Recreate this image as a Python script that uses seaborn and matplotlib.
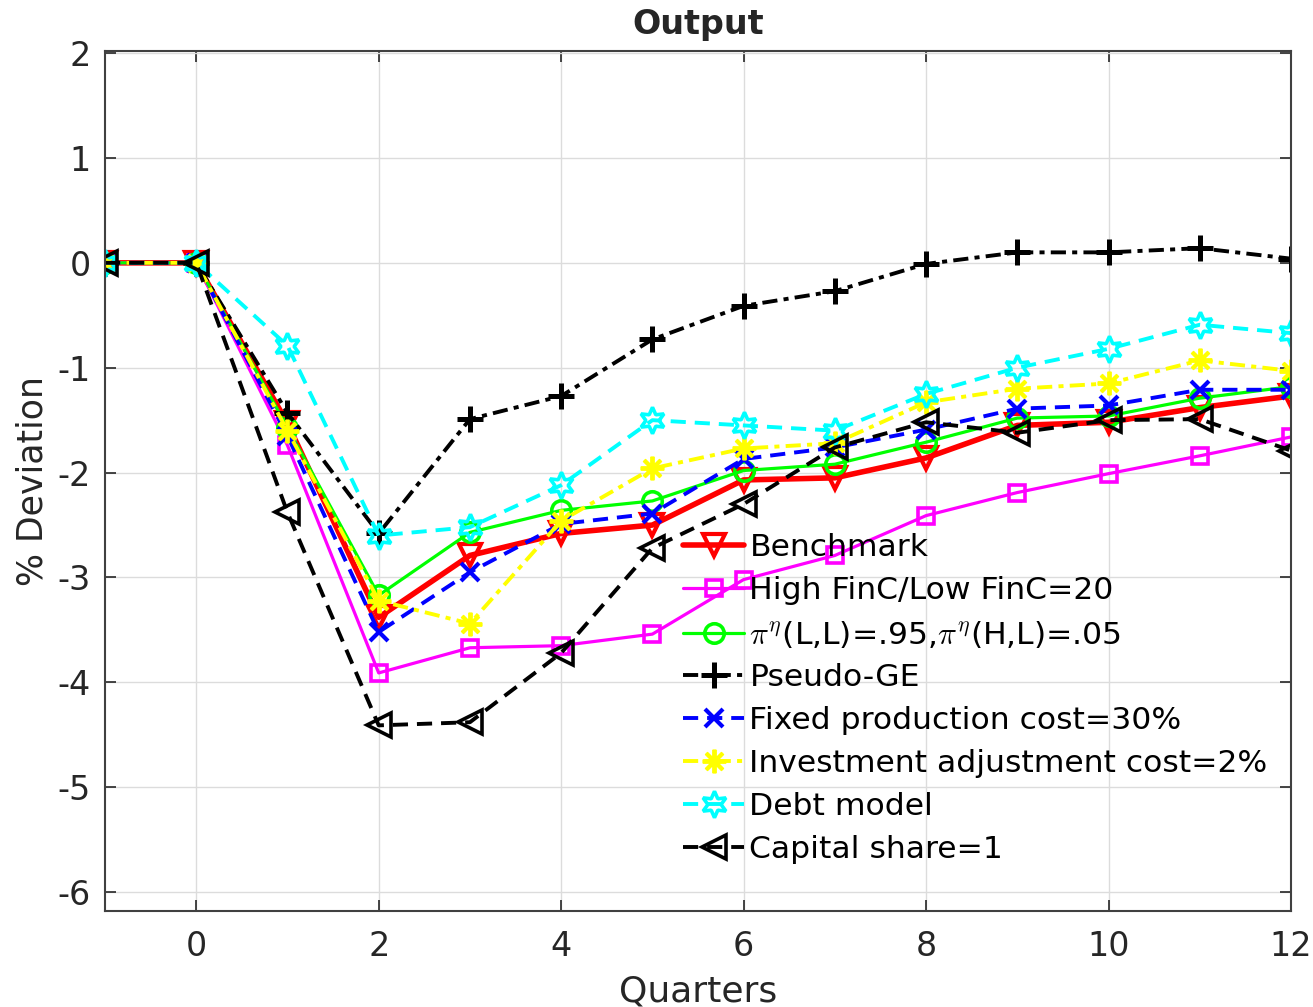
import numpy as np
import pandas as pd
import seaborn as sns
import matplotlib.pyplot as plt

sns.set_style("ticks")
plt.rcParams['font.family'] = ['DejaVu Sans']
plt.rcParams['mathtext.fontset'] = 'cm'
plt.rcParams['axes.unicode_minus'] = False

# quarters after the shock
quarters = [-1, 0, 1, 2, 3, 4, 5, 6, 7, 8, 9, 10, 11, 12]

benchmark = [0, 0, -1.53, -3.38, -2.79, -2.58, -2.50, -2.07, -2.05, -1.86, -1.55, -1.52, -1.38, -1.27]
high_finc = [0, 0, -1.74, -3.91, -3.67, -3.65, -3.54, -3.02, -2.79, -2.41, -2.19, -2.01, -1.84, -1.66]
pi_eta = [0, 0, -1.57, -3.17, -2.57, -2.36, -2.27, -1.98, -1.92, -1.71, -1.48, -1.46, -1.29, -1.18]
pseudo_ge = [0, 0, -1.43, -2.58, -1.49, -1.27, -0.73, -0.41, -0.27, -0.01, 0.10, 0.10, 0.14, 0.04]
fixed_cost = [0, 0, -1.65, -3.52, -2.95, -2.49, -2.39, -1.87, -1.76, -1.59, -1.39, -1.36, -1.21, -1.21]
inv_adj = [0, 0, -1.60, -3.22, -3.44, -2.46, -1.96, -1.77, -1.72, -1.33, -1.20, -1.15, -0.93, -1.03]
debt_model = [0, 0, -0.79, -2.60, -2.52, -2.12, -1.50, -1.55, -1.60, -1.25, -1.00, -0.82, -0.59, -0.67]
cap_share = [0, 0, -2.38, -4.41, -4.38, -3.72, -2.72, -2.30, -1.76, -1.52, -1.62, -1.50, -1.49, -1.79]

labels = ['Benchmark', 'High FinC/Low FinC=20',
          r'$\pi^\eta$(L,L)=.95,$\pi^\eta$(H,L)=.05', 'Pseudo-GE',
          'Fixed production cost=30%', 'Investment adjustment cost=2%',
          'Debt model', 'Capital share=1']
series = [benchmark, high_finc, pi_eta, pseudo_ge, fixed_cost, inv_adj, debt_model, cap_share]

dashdot = (0, (3.9, 1.6, 1.3, 1.6))
dashed = (0, (3.9, 2.3))
# color, marker, linestyle, linewidth, markersize, marker edge width
styles = [
    ('#ff0000', 'v', '-', 4.0, 16, 3.0),
    ('#ff00ff', 's', '-', 2.3, 12, 2.6),
    ('#00ff00', 'o', '-', 2.3, 14, 2.6),
    ('#000000', '+', dashdot, 2.8, 19, 3.6),
    ('#0000ff', 'x', dashed, 2.8, 13, 3.0),
    ('#ffff00', (8, 2, 0), dashdot, 2.8, 17, 2.8),
    ('#00ffff', (6, 1, 0), dashed, 2.8, 19, 2.6),
    ('#000000', '<', dashed, 2.8, 17, 2.6),
]

fig = plt.figure(figsize=(13.13, 10.07), dpi=100)
ax = fig.add_axes([105 / 1313, 1 - 911 / 1007, 1186 / 1313, 860 / 1007])

for vals, lab, (c, m, ls, lw, ms, mew) in zip(series, labels, styles):
    sns.lineplot(x=quarters, y=vals, ax=ax, color=c, marker=m, linestyle=ls,
                 linewidth=lw, markersize=ms, markerfacecolor='none',
                 markeredgecolor=c, markeredgewidth=mew, label=lab)

ax.set_xlim(-1, 12)
ax.set_ylim(-6.18, 2.02)
ax.set_xticks([0, 2, 4, 6, 8, 10, 12])
ax.set_yticks([-6, -5, -4, -3, -2, -1, 0, 1, 2])
ax.grid(True, color='#dcdcdc', linewidth=1)
ax.tick_params(direction='in', length=8, width=1.2, colors='#262626',
               labelsize=24, top=True, right=True)
ax.tick_params(axis='y', pad=10)
ax.tick_params(axis='x', pad=14)
for s in ax.spines.values():
    s.set_color('#404040')
    s.set_linewidth(1.5)

ax.set_title('Output', fontsize=24, fontweight='bold', pad=12)
ax.set_xlabel('Quarters', fontsize=26, color='#262626')
ax.set_ylabel('% Deviation', fontsize=25, color='#262626')
ax.xaxis.set_label_coords(0.5, -0.074)
ax.yaxis.set_label_coords(-0.047, 0.5)

leg = ax.legend(loc='upper left', bbox_to_anchor=(0.487, 0.4395), frameon=False,
                fontsize=22.6, handlelength=1.97, handletextpad=0.16, labelspacing=0.44,
                borderpad=0, borderaxespad=0)
for t in leg.get_texts():
    t.set_color('black')

fig.savefig('out.png', dpi=100)
